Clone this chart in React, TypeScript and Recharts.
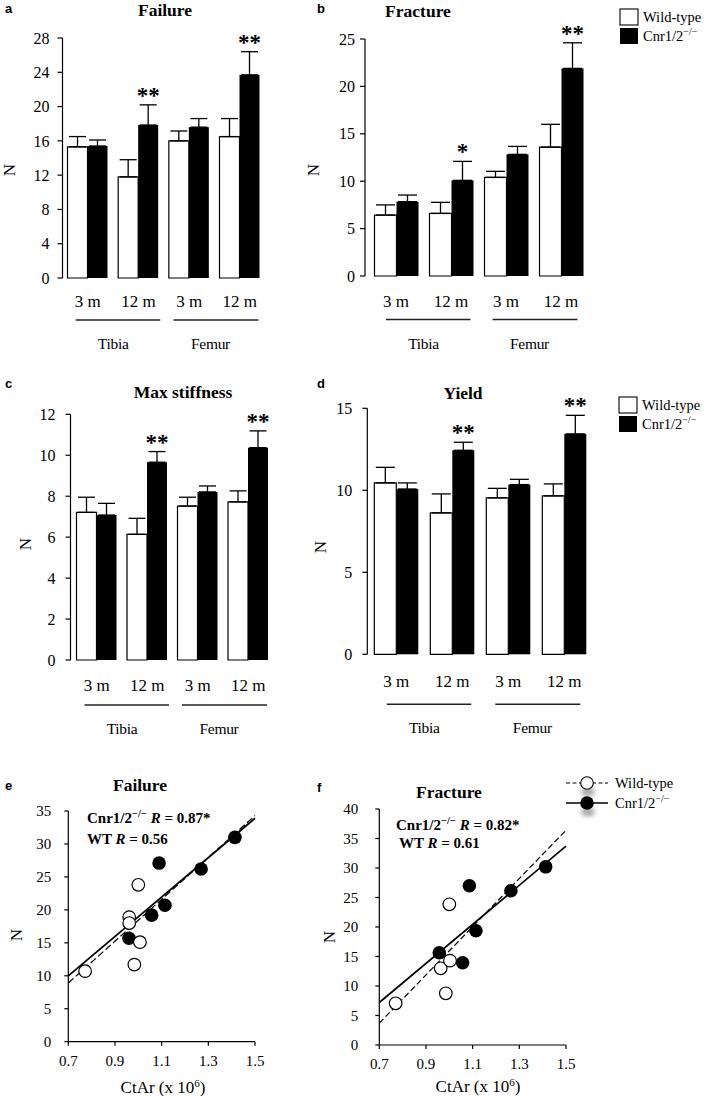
import React from 'react';
import { BarChart, Bar, XAxis, YAxis, ErrorBar, ScatterChart, Scatter, ReferenceLine } from 'recharts';

const SERIF = '"Liberation Serif", "Times New Roman", Times, serif';
const SANS = '"Liberation Sans", Arial, sans-serif';

// ---------- bar chart data ----------
const ageLabels = ['3 m', '12 m', '3 m', '12 m'];
const boneLabels = ['Tibia', 'Tibia', 'Femur', 'Femur'];

const failureWT = [15.3, 11.8, 16.0, 16.5];
const failureWTErr = [1.2, 2.0, 1.15, 2.1];
const failureKO = [15.4, 17.85, 17.6, 23.7];
const failureKOErr = [0.7, 2.35, 1.0, 2.7];
const failureSig = ['', '**', '', '**'];

const fractureWT = [6.43, 6.6, 10.4, 13.6];
const fractureWTErr = [1.07, 1.17, 0.64, 2.4];
const fractureKO = [7.84, 10.09, 12.83, 21.9];
const fractureKOErr = [0.7, 2.0, 0.84, 2.7];
const fractureSig = ['', '*', '', '**'];

const stiffWT = [7.21, 6.14, 7.52, 7.72];
const stiffWTErr = [0.74, 0.78, 0.43, 0.54];
const stiffKO = [7.08, 9.66, 8.21, 10.37];
const stiffKOErr = [0.57, 0.52, 0.29, 0.82];
const stiffSig = ['', '**', '', '**'];

const yieldWT = [10.45, 8.62, 9.54, 9.66];
const yieldWTErr = [0.95, 1.16, 0.58, 0.73];
const yieldKO = [10.08, 12.44, 10.35, 13.44];
const yieldKOErr = [0.37, 0.49, 0.32, 1.13];
const yieldSig = ['', '**', '', '**'];

const failureTicks = [0, 4, 8, 12, 16, 20, 24, 28];
const fractureTicks = [0, 5, 10, 15, 20, 25];
const stiffTicks = [0, 2, 4, 6, 8, 10, 12];
const yieldTicks = [0, 5, 10, 15];

// ---------- scatter data ----------
const eWT = [
  { x: 0.772, y: 10.7 }, { x: 0.961, y: 18.9 }, { x: 0.961, y: 18.0 },
  { x: 1.0, y: 23.8 }, { x: 1.007, y: 15.1 }, { x: 0.983, y: 11.7 },
];
const eKO = [
  { x: 0.96, y: 15.7 }, { x: 1.089, y: 27.1 }, { x: 1.057, y: 19.2 },
  { x: 1.114, y: 20.7 }, { x: 1.269, y: 26.2 }, { x: 1.414, y: 31.0 },
];
const eFitWT = [{ x: 0.7, y: 8.9 }, { x: 1.5, y: 34.3 }];
const eFitKO = [{ x: 0.7, y: 10.0 }, { x: 1.5, y: 33.9 }];

const fWT = [
  { x: 0.77, y: 7.07 }, { x: 0.963, y: 13.0 }, { x: 1.003, y: 14.3 },
  { x: 1.0, y: 23.85 }, { x: 0.985, y: 8.76 },
];
const fKO = [
  { x: 0.957, y: 15.64 }, { x: 1.086, y: 27.0 }, { x: 1.114, y: 19.37 },
  { x: 1.057, y: 13.95 }, { x: 1.264, y: 26.15 }, { x: 1.413, y: 30.2 },
];
const fFitWT = [{ x: 0.7, y: 3.7 }, { x: 1.5, y: 36.4 }];
const fFitKO = [{ x: 0.7, y: 7.2 }, { x: 1.5, y: 33.7 }];

const ctarTicks = [0.7, 0.9, 1.1, 1.3, 1.5];
const eYTicks = [0, 5, 10, 15, 20, 25, 30, 35];
const fYTicks = [0, 5, 10, 15, 20, 25, 30, 35, 40];

function buildRows(wt: number[], wtErr: number[], ko: number[], koErr: number[], sig: string[]) {
  return ageLabels.map((age, i) => ({
    key: `${boneLabels[i]} ${age}`,
    age,
    bone: boneLabels[i],
    wt: wt[i],
    wtErr: [0, wtErr[i]],
    ko: ko[i],
    koErr: [0, koErr[i]],
    sig: sig[i],
  }));
}

const failureRows = buildRows(failureWT, failureWTErr, failureKO, failureKOErr, failureSig);
const fractureRows = buildRows(fractureWT, fractureWTErr, fractureKO, fractureKOErr, fractureSig);
const stiffRows = buildRows(stiffWT, stiffWTErr, stiffKO, stiffKOErr, stiffSig);
const yieldRows = buildRows(yieldWT, yieldWTErr, yieldKO, yieldKOErr, yieldSig);

type BarCfg = {
  L: number; T: number; W: number; H: number;
  plotLeft: number; plotTop: number; plotBottom: number;
  catW: number; padLeft: number; barSize: number;
  yMax: number; yTicks: number[]; tickMargin: number;
  tickDy: number; lineDy: number; groupDy: number;
};

const KoShape = (props: any) => {
  const { x, y, width, height, payload } = props;
  const val = payload.ko;
  const top = payload.ko + payload.koErr[1];
  const pxPer = height / val;
  const errY = y + height - top * pxPer;
  return (
    <g>
      <rect x={x} y={y} width={width} height={height} fill="#000" />
      {payload.sig ? (
        <text x={x + width / 2} y={errY - 2} textAnchor="middle" fontFamily={SERIF} fontWeight="bold" fontSize={23} fill="#000">
          {payload.sig}
        </text>
      ) : null}
    </g>
  );
};

const makeTick = (cfg: BarCfg) => (props: any) => {
  const { x, y, index } = props;
  const isGroupEnd = index === boneLabels.length - 1 || boneLabels[index + 1] !== boneLabels[index];
  const groupIdx = boneLabels.slice(0, index + 1).filter((b, i, arr) => i === 0 || arr[i - 1] !== b).length - 1;
  const mid = x - cfg.catW / 2;
  const spans = [[-37.5, 47], [-41, 44]];
  const labelShift = [0, -4];
  return (
    <g>
      <text x={x} y={y + cfg.tickDy} textAnchor="middle" fontFamily={SERIF} fontSize={17} fill="#000">
        {ageLabels[index]}
      </text>
      {isGroupEnd ? (
        <g>
          <line x1={mid + spans[groupIdx][0]} x2={mid + spans[groupIdx][1]} y1={y + cfg.lineDy} y2={y + cfg.lineDy} stroke="#222" strokeWidth={1.4} />
          <text x={mid + labelShift[groupIdx]} y={y + cfg.groupDy} textAnchor="middle" fontFamily={SERIF} fontSize={15.5} fill="#000" letterSpacing={-0.3}>
            {boneLabels[index]}
          </text>
        </g>
      ) : null}
    </g>
  );
};

function BarPanel({ cfg, rows }: { cfg: BarCfg; rows: any[] }) {
  const yW = 40;
  const xH = 90;
  const plotWidth = cfg.padLeft + 4 * cfg.catW;
  const margin = {
    top: cfg.plotTop - cfg.T,
    left: cfg.plotLeft - cfg.L - yW,
    right: cfg.L + cfg.W - cfg.plotLeft - plotWidth,
    bottom: cfg.T + cfg.H - cfg.plotBottom - xH,
  };
  const capHalf = cfg.barSize / 2 - 1.5;
  return (
    <div style={{ position: 'absolute', left: cfg.L, top: cfg.T, width: cfg.W, height: cfg.H }}>
      <BarChart width={cfg.W} height={cfg.H} data={rows} margin={margin} barGap={0} barSize={cfg.barSize}>
        <XAxis
          dataKey="key"
          interval={0}
          axisLine={false}
          tickLine={false}
          tickSize={0}
          tickMargin={0}
          height={xH}
          padding={{ left: cfg.padLeft, right: 0 }}
          tick={makeTick(cfg)}
        />
        <YAxis
          width={yW}
          domain={[0, cfg.yMax]}
          ticks={cfg.yTicks}
          interval={0}
          axisLine={{ stroke: '#000', strokeWidth: 1.2 }}
          tickLine={{ stroke: '#000', strokeWidth: 1.2 }}
          tickSize={5}
          tickMargin={cfg.tickMargin}
          tick={{ fontFamily: SERIF, fontSize: 16, fill: '#000' }}
        />
        <Bar dataKey="wt" fill="#fff" stroke="#000" strokeWidth={1.2} isAnimationActive={false}>
          <ErrorBar dataKey="wtErr" width={capHalf} stroke="#000" strokeWidth={1.3} direction="y" />
        </Bar>
        <Bar dataKey="ko" fill="#000" shape={KoShape} isAnimationActive={false}>
          <ErrorBar dataKey="koErr" width={capHalf} stroke="#000" strokeWidth={1.3} direction="y" />
        </Bar>
      </BarChart>
    </div>
  );
}

type ScCfg = {
  L: number; T: number; W: number; H: number;
  plotLeft: number; plotTop: number; plotBottom: number; plotWidth: number;
  yMax: number; yTicks: number[]; yTickMargin: number; xTickMargin: number;
};

const OpenDot = (props: any) => (
  <circle cx={props.cx} cy={props.cy} r={6.3} fill="#fff" stroke="#000" strokeWidth={1.2} />
);
const FilledDot = (props: any) => (
  <circle cx={props.cx} cy={props.cy} r={6.8} fill="#000" />
);

function ScatterPanel({ cfg, wt, ko, fitWT, fitKO, dash }: { cfg: ScCfg; wt: any[]; ko: any[]; fitWT: any[]; fitKO: any[]; dash: string }) {
  const yW = 40;
  const xH = 30;
  const margin = {
    top: cfg.plotTop - cfg.T,
    left: cfg.plotLeft - cfg.L - yW,
    right: cfg.L + cfg.W - cfg.plotLeft - cfg.plotWidth,
    bottom: cfg.T + cfg.H - cfg.plotBottom - xH,
  };
  return (
    <div style={{ position: 'absolute', left: cfg.L, top: cfg.T, width: cfg.W, height: cfg.H }}>
      <ScatterChart width={cfg.W} height={cfg.H} margin={margin}>
        <XAxis
          type="number"
          dataKey="x"
          domain={[0.7, 1.5]}
          ticks={ctarTicks}
          interval={0}
          allowDataOverflow
          height={xH}
          axisLine={{ stroke: '#000', strokeWidth: 1.2 }}
          tickLine={{ stroke: '#000', strokeWidth: 1.2 }}
          tickSize={4}
          tickMargin={cfg.xTickMargin}
          tickFormatter={(v: number) => v.toFixed(1)}
          tick={{ fontFamily: SERIF, fontSize: 15, fill: '#000' }}
        />
        <YAxis
          type="number"
          dataKey="y"
          width={yW}
          domain={[0, cfg.yMax]}
          ticks={cfg.yTicks}
          interval={0}
          allowDataOverflow
          axisLine={{ stroke: '#000', strokeWidth: 1.2 }}
          tickLine={{ stroke: '#000', strokeWidth: 1.2 }}
          tickSize={4}
          tickMargin={cfg.yTickMargin}
          tick={{ fontFamily: SERIF, fontSize: 15, fill: '#000' }}
        />
        <Scatter data={ko} shape={FilledDot} isAnimationActive={false} />
        <Scatter data={wt} shape={OpenDot} isAnimationActive={false} />
        <ReferenceLine segment={fitKO} stroke="#000" strokeWidth={1.7} ifOverflow="visible" />
        <ReferenceLine segment={fitWT} stroke="#000" strokeWidth={1.2} strokeDasharray={dash} ifOverflow="visible" />
      </ScatterChart>
    </div>
  );
}

const cfgA: BarCfg = { L: 0, T: 0, W: 330, H: 360, plotLeft: 62.5, plotTop: 38, plotBottom: 278, catW: 50.67, padLeft: 0, barSize: 20, yMax: 28, yTicks: failureTicks, tickMargin: 8, tickDy: 29, lineDy: 42, groupDy: 71 };
const cfgB: BarCfg = { L: 320, T: 0, W: 290, H: 360, plotLeft: 365, plotTop: 39, plotBottom: 276, catW: 55, padLeft: 3.5, barSize: 22, yMax: 25, yTicks: fractureTicks, tickMargin: 5, tickDy: 30.5, lineDy: 43.5, groupDy: 73 };
const cfgC: BarCfg = { L: 0, T: 380, W: 330, H: 380, plotLeft: 70.5, plotTop: 414.3, plotBottom: 660, catW: 50.5, padLeft: 1, barSize: 20, yMax: 12, yTicks: stiffTicks, tickMargin: 10, tickDy: 31, lineDy: 45, groupDy: 74 };
const cfgD: BarCfg = { L: 320, T: 380, W: 290, H: 380, plotLeft: 367.3, plotTop: 408.3, plotBottom: 654.3, catW: 56, padLeft: 1, barSize: 22, yMax: 15, yTicks: yieldTicks, tickMargin: 10, tickDy: 33, lineDy: 50, groupDy: 79 };

const cfgE: ScCfg = { L: 0, T: 770, W: 320, H: 326, plotLeft: 68.3, plotTop: 811, plotBottom: 1041.7, plotWidth: 186.7, yMax: 35, yTicks: eYTicks, yTickMargin: 13, xTickMargin: 10 };
const cfgF: ScCfg = { L: 320, T: 770, W: 387, H: 326, plotLeft: 379.3, plotTop: 809, plotBottom: 1045, plotWidth: 186.7, yMax: 40, yTicks: fYTicks, yTickMargin: 17, xTickMargin: 9 };

const Sup = ({ size = 10, dy = -6 }: { size?: number; dy?: number }) => (
  <tspan dy={dy} fontSize={size}>−/−</tspan>
);

function BarLegend({ x, y }: { x: number; y: number }) {
  return (
    <g>
      <rect x={x} y={y} width={18} height={16} fill="#fff" stroke="#000" strokeWidth={1.1} />
      <rect x={x} y={y + 19} width={18} height={16} fill="#000" />
      <text x={x + 23} y={y + 13} fontFamily={SERIF} fontSize={14.5} fill="#000">Wild-type</text>
      <text x={x + 23} y={y + 32} fontFamily={SERIF} fontSize={14.5} fill="#000">
        Cnr1/2<Sup size={10} dy={-6} />
      </text>
    </g>
  );
}

function Overlay() {
  const title = (x: number, y: number, t: string) => (
    <text x={x} y={y} textAnchor="middle" fontFamily={SERIF} fontWeight="bold" fontSize={17.5} fill="#000">{t}</text>
  );
  const letter = (x: number, y: number, t: string) => (
    <text x={x} y={y} fontFamily={SANS} fontWeight="bold" fontSize={13} fill="#000">{t}</text>
  );
  const nLabel = (x: number, y: number) => (
    <text transform={`translate(${x},${y}) rotate(-90)`} textAnchor="middle" dominantBaseline="central" fontFamily={SERIF} fontSize={17} fill="#000">N</text>
  );
  const ctar = (x: number, y: number) => (
    <text x={x} y={y} textAnchor="middle" fontFamily={SERIF} fontSize={17} fill="#000">
      CtAr (x 10<tspan dy={-6} fontSize={11}>6</tspan><tspan dy={6}>)</tspan>
    </text>
  );
  const annot = (x: number, y: number, x2: number, y2: number, r1: string, r2: string) => (
    <g fontFamily={SERIF} fontWeight="bold" fontSize={15} fill="#000">
      <text x={x} y={y}>
        Cnr1/2<Sup size={10.5} dy={-6} /><tspan dy={6}> </tspan><tspan fontStyle="italic">R</tspan> = {r1}
      </text>
      <text x={x2} y={y2}>
        WT <tspan fontStyle="italic">R</tspan> = {r2}
      </text>
    </g>
  );
  return (
    <svg width={707} height={1096} style={{ position: 'absolute', left: 0, top: 0, pointerEvents: 'none' }}>
      <defs>
        <filter id="blurShadow" x="-50%" y="-50%" width="200%" height="200%">
          <feGaussianBlur stdDeviation="2.5" />
        </filter>
      </defs>
      {letter(5, 13, 'a')}
      {letter(317, 13, 'b')}
      {letter(5, 388, 'c')}
      {letter(317, 388, 'd')}
      {letter(5, 790, 'e')}
      {letter(317, 792, 'f')}

      {title(165, 16, 'Failure')}
      {title(418, 17, 'Fracture')}
      {title(183, 398, 'Max stiffness')}
      {title(463, 399, 'Yield')}
      {title(140, 791, 'Failure')}
      {title(449, 798, 'Fracture')}

      {nLabel(9, 170)}
      {nLabel(313, 170)}
      {nLabel(25, 544)}
      {nLabel(320, 547)}
      {nLabel(16, 935)}
      {nLabel(329, 937)}

      <BarLegend x={620} y={9} />
      <BarLegend x={619} y={397} />

      {annot(87, 823, 87, 844, '0.87*', '0.56')}
      {annot(396, 830, 399, 848, '0.82*', '0.61')}

      {ctar(163, 1093)}
      {ctar(478, 1092)}

      {/* legend f */}
      <ellipse cx={588} cy={792} rx={7} ry={4} fill="#777" opacity={0.7} filter="url(#blurShadow)" />
      <ellipse cx={588} cy={812} rx={7} ry={4} fill="#777" opacity={0.7} filter="url(#blurShadow)" />
      <line x1={566} x2={608} y1={783} y2={783} stroke="#000" strokeWidth={1.1} strokeDasharray="4 2.5" />
      <circle cx={587} cy={783} r={6.3} fill="#fff" stroke="#000" strokeWidth={1.1} />
      <text x={615} y={788} fontFamily={SERIF} fontSize={14.5} fill="#000">Wild-type</text>
      <line x1={566} x2={608} y1={803} y2={803} stroke="#000" strokeWidth={1.6} />
      <circle cx={587} cy={803} r={6.8} fill="#000" />
      <text x={615} y={808} fontFamily={SERIF} fontSize={14.5} fill="#000">
        Cnr1/2<Sup size={10} dy={-6} />
      </text>
    </svg>
  );
}

export default function App() {
  return (
    <div style={{ position: 'absolute', left: 0, top: 0, width: 707, height: 1096, background: '#fff', overflow: 'hidden' }}>
      <BarPanel cfg={cfgA} rows={failureRows} />
      <BarPanel cfg={cfgB} rows={fractureRows} />
      <BarPanel cfg={cfgC} rows={stiffRows} />
      <BarPanel cfg={cfgD} rows={yieldRows} />
      <ScatterPanel cfg={cfgE} wt={eWT} ko={eKO} fitWT={eFitWT} fitKO={eFitKO} dash="7 3" />
      <ScatterPanel cfg={cfgF} wt={fWT} ko={fKO} fitWT={fFitWT} fitKO={fFitKO} dash="6 3" />
      <Overlay />
    </div>
  );
}
